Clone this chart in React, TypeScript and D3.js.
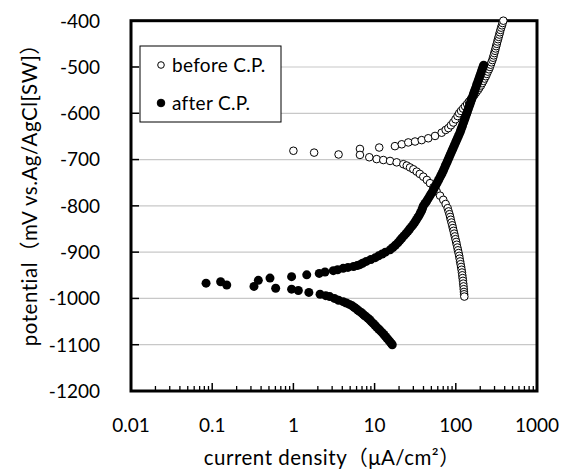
import { useEffect, useRef } from "react";
import * as d3 from "d3";

const xTicks = [0.01, 0.1, 1, 10, 100, 1000];
const yTicks = [-400, -500, -600, -700, -800, -900, -1000, -1100, -1200];
const seriesNames = ["before C.P.", "after C.P."];

// [current density (uA/cm2), potential (mV)]
const beforeAnodic: [number, number][] = [
  [1.0, -681], [1.8, -685], [3.6, -689], [6.6, -677], [11.4, -674],
  [17.8, -671], [21.6, -667], [26.0, -663], [31.5, -661], [38.0, -658],
  [45.8, -654], [55.5, -649], [67.0, -642], [75, -636], [81, -632],
  [87, -626], [93, -620], [99, -613], [105, -606], [110, -600],
  [116, -595], [123, -590], [130, -585], [138, -580], [145, -575],
  [153, -570], [161, -565], [170, -560], [178, -555], [187, -550],
  [195, -545], [204, -540], [211, -535], [219, -530], [226, -525],
  [234, -520], [241, -515], [248, -510], [256, -505], [263, -500],
  [269, -495], [275, -490], [282, -485], [288, -480], [293, -475],
  [298, -470], [304, -465], [309, -460], [314, -455], [320, -450],
  [325, -445], [331, -440], [337, -435], [343, -430], [349, -425],
  [355, -420], [362, -415], [370, -410], [377, -405], [385, -400],
];

const beforeCathodic: [number, number][] = [
  [6.6, -690], [8.6, -695], [10.6, -699], [12.8, -701], [15.5, -703],
  [18.7, -706], [22.6, -710], [24.9, -713], [27.3, -717], [30, -721],
  [33, -726], [36, -731], [39.8, -737], [44, -744], [48.1, -751],
  [53, -760], [58.1, -769], [64, -778], [70.1, -787], [75, -796],
  [79.4, -805], [81.5, -812], [83.5, -818], [85.2, -824], [86.7, -830],
  [88.5, -836], [90.3, -842], [92, -848], [93.8, -854], [95.5, -860],
  [97.3, -866], [99, -872], [101, -878], [102.7, -884], [104.5, -890],
  [106.3, -896], [108.2, -902], [110, -908], [111.5, -914], [113, -920],
  [114.6, -926], [116.2, -932], [117.8, -938], [119, -944], [120.2, -950],
  [121.3, -956], [122.5, -962], [123.4, -968], [124.5, -974], [125.2, -980],
  [126, -986], [126.6, -991], [127.4, -996],
];

const afterAnodic: [number, number][] = [
  [0.084, -967], [0.127, -964], [0.37, -961], [0.515, -956], [0.95, -953],
  [1.46, -949], [2.08, -946], [2.45, -943], [3.1, -940], [3.5, -938],
  [4.1, -935], [4.7, -933], [5.5, -931], [6.1, -929], [6.6, -927],
  [7.1, -924], [7.9, -920], [9.0, -916], [10.2, -912], [11.2, -908],
  [12.4, -904], [13.6, -900], [15.5, -895], [16.8, -890], [18.0, -885],
  [19.3, -880], [20.4, -875], [21.6, -870], [22.9, -865], [24.3, -860],
  [25.7, -855], [27.0, -850], [28.5, -845], [30.0, -840], [31.4, -835],
  [32.7, -830], [34.1, -825], [35.5, -820], [36.7, -815], [38.0, -810],
  [38.9, -805], [39.8, -800], [41.7, -795], [43.7, -790], [45.4, -785],
  [47.3, -780], [49.2, -775], [51.3, -770], [53.1, -765], [55.0, -760],
  [56.9, -755], [58.9, -750], [61.0, -745], [63.1, -740], [65.3, -735],
  [67.6, -730], [69.7, -725], [71.6, -720], [73.8, -715], [75.9, -710],
  [78.2, -705], [80.4, -700], [82.8, -695], [85.1, -690], [87.7, -685],
  [90.2, -680], [92.9, -675], [95.5, -670], [98.4, -665], [101.2, -660],
  [104.2, -655], [107.2, -650], [110.4, -645], [113.5, -640], [116.1, -635],
  [118.9, -630], [121.6, -625], [124.5, -620], [127.4, -615], [130.3, -610],
  [133.4, -605], [136.5, -600], [139.6, -595], [142.9, -590], [146.2, -585],
  [149.6, -580], [153.1, -575], [156.7, -570], [160.3, -565], [164.1, -560],
  [167.9, -555], [171.8, -550], [175.8, -545], [179.9, -540], [184.1, -535],
  [188.4, -530], [192.8, -525], [197.2, -520], [201.8, -515], [206.5, -510],
  [211.3, -505], [216.3, -500], [220.3, -496],
];

const afterCathodic: [number, number][] = [
  [0.151, -971], [0.327, -974], [0.605, -978], [0.95, -980], [1.15, -983],
  [1.55, -987], [2.13, -991], [2.5, -994], [2.8, -996], [3.2, -1000],
  [3.6, -1004], [4.1, -1007], [4.5, -1010], [4.9, -1013], [5.3, -1016],
  [5.6, -1019], [5.9, -1022], [6.2, -1025], [6.5, -1028], [6.9, -1031],
  [7.2, -1034], [7.5, -1037], [7.9, -1040], [8.3, -1043], [8.7, -1046],
  [9.1, -1050], [9.6, -1054], [10.1, -1058], [10.6, -1062], [11.2, -1066],
  [11.8, -1070], [12.4, -1074], [13.0, -1078], [13.6, -1082], [14.2, -1086],
  [14.9, -1090], [15.5, -1094], [16.0, -1097], [16.5, -1100],
];

const W = 573;
const H = 473;
const FONT = "Lato, 'Noto Sans CJK JP', sans-serif";

export default function App() {
  const svgRef = useRef<SVGSVGElement>(null);

  useEffect(() => {
    document.body.style.margin = "0";
    if (!svgRef.current) return;
    const svg = d3.select(svgRef.current);
    svg.selectAll("*").remove();

    const x = d3.scaleLog().domain([0.01, 1000]).range([131, 537]);
    const y = d3.scaleLinear().domain([-1200, -400]).range([391, 20.7]);

    // gridlines
    svg
      .append("g")
      .selectAll("line")
      .data(yTicks.slice(1, -1))
      .enter()
      .append("line")
      .attr("x1", x(0.01))
      .attr("x2", x(1000))
      .attr("y1", (d) => y(d))
      .attr("y2", (d) => y(d))
      .attr("stroke", "#c8c8c8")
      .attr("stroke-width", 1.2);

    // y ticks (inward)
    svg
      .append("g")
      .selectAll("line")
      .data(yTicks)
      .enter()
      .append("line")
      .attr("x1", x(0.01))
      .attr("x2", x(0.01) + 8)
      .attr("y1", (d) => y(d))
      .attr("y2", (d) => y(d))
      .attr("stroke", "#000")
      .attr("stroke-width", 1.5);

    // x ticks, major and minor (inward)
    const minor: number[] = [];
    xTicks.slice(0, -1).forEach((d) => {
      for (let k = 2; k <= 9; k++) minor.push(d * k);
    });
    svg
      .append("g")
      .selectAll("line")
      .data(minor)
      .enter()
      .append("line")
      .attr("x1", (d) => x(d))
      .attr("x2", (d) => x(d))
      .attr("y1", y(-1200))
      .attr("y2", y(-1200) - 5)
      .attr("stroke", "#000")
      .attr("stroke-width", 1.3);
    svg
      .append("g")
      .selectAll("line")
      .data(xTicks)
      .enter()
      .append("line")
      .attr("x1", (d) => x(d))
      .attr("x2", (d) => x(d))
      .attr("y1", y(-1200))
      .attr("y2", y(-1200) - 8)
      .attr("stroke", "#000")
      .attr("stroke-width", 1.5);

    // frame
    svg
      .append("rect")
      .attr("x", x(0.01))
      .attr("y", y(-400))
      .attr("width", x(1000) - x(0.01))
      .attr("height", y(-1200) - y(-400))
      .attr("fill", "none")
      .attr("stroke", "#000")
      .attr("stroke-width", 3);

    // tick labels
    svg
      .append("g")
      .selectAll("text")
      .data(yTicks)
      .enter()
      .append("text")
      .attr("x", 100)
      .attr("y", (d) => y(d))
      .attr("dy", "0.36em")
      .attr("text-anchor", "end")
      .attr("font-family", FONT)
      .attr("font-size", 19)
      .attr("fill", "#000")
      .text((d) => String(d));

    svg
      .append("g")
      .selectAll("text")
      .data(xTicks)
      .enter()
      .append("text")
      .attr("x", (d) => x(d))
      .attr("y", 432)
      .attr("text-anchor", "middle")
      .attr("font-family", FONT)
      .attr("font-size", 19)
      .attr("fill", "#000")
      .text((d) => String(d));

    // axis titles
    svg
      .append("text")
      .attr("transform", `translate(37,190) rotate(-90)`)
      .attr("text-anchor", "middle")
      .attr("font-family", FONT)
      .attr("font-size", 20.5)
      .attr("letter-spacing", 0.5)
      .attr("fill", "#000")
      .text("potential（mV vs.Ag/AgCl[SW]）");

    svg
      .append("text")
      .attr("x", 332)
      .attr("y", 465)
      .attr("text-anchor", "middle")
      .attr("font-family", FONT)
      .attr("font-size", 20.5)
      .attr("letter-spacing", 0.5)
      .attr("fill", "#000")
      .text("current density（μA/cm²）");

    // before C.P. (open circles)
    svg
      .append("g")
      .selectAll("circle")
      .data([...beforeAnodic, ...beforeCathodic])
      .enter()
      .append("circle")
      .attr("cx", (d) => x(d[0]))
      .attr("cy", (d) => y(d[1]))
      .attr("r", 3.8)
      .attr("fill", "#fff")
      .attr("stroke", "#000")
      .attr("stroke-width", 1);

    // after C.P. (filled circles)
    svg
      .append("g")
      .selectAll("circle")
      .data([...afterAnodic, ...afterCathodic])
      .enter()
      .append("circle")
      .attr("cx", (d) => x(d[0]))
      .attr("cy", (d) => y(d[1]))
      .attr("r", 4.5)
      .attr("fill", "#000");

    // legend
    const lg = svg.append("g");
    lg.append("rect")
      .attr("x", 140)
      .attr("y", 46)
      .attr("width", 141)
      .attr("height", 76)
      .attr("fill", "#fff")
      .attr("stroke", "#000")
      .attr("stroke-width", 1);
    seriesNames.forEach((name, i) => {
      const cy = 65 + i * 38;
      lg.append("circle")
        .attr("cx", 161)
        .attr("cy", cy)
        .attr("r", i === 0 ? 3.3 : 3.8)
        .attr("fill", i === 0 ? "#fff" : "#000")
        .attr("stroke", "#000")
        .attr("stroke-width", 1);
      lg.append("text")
        .attr("x", 172)
        .attr("y", cy)
        .attr("dy", "0.36em")
        .attr("font-family", FONT)
        .attr("font-size", 19)
        .attr("letter-spacing", 0.3)
        .attr("fill", "#000")
        .text(name);
    });
  }, []);

  return (
    <svg
      ref={svgRef}
      width={W}
      height={H}
      style={{ position: "absolute", left: 0, top: 0, background: "#fff" }}
    />
  );
}
